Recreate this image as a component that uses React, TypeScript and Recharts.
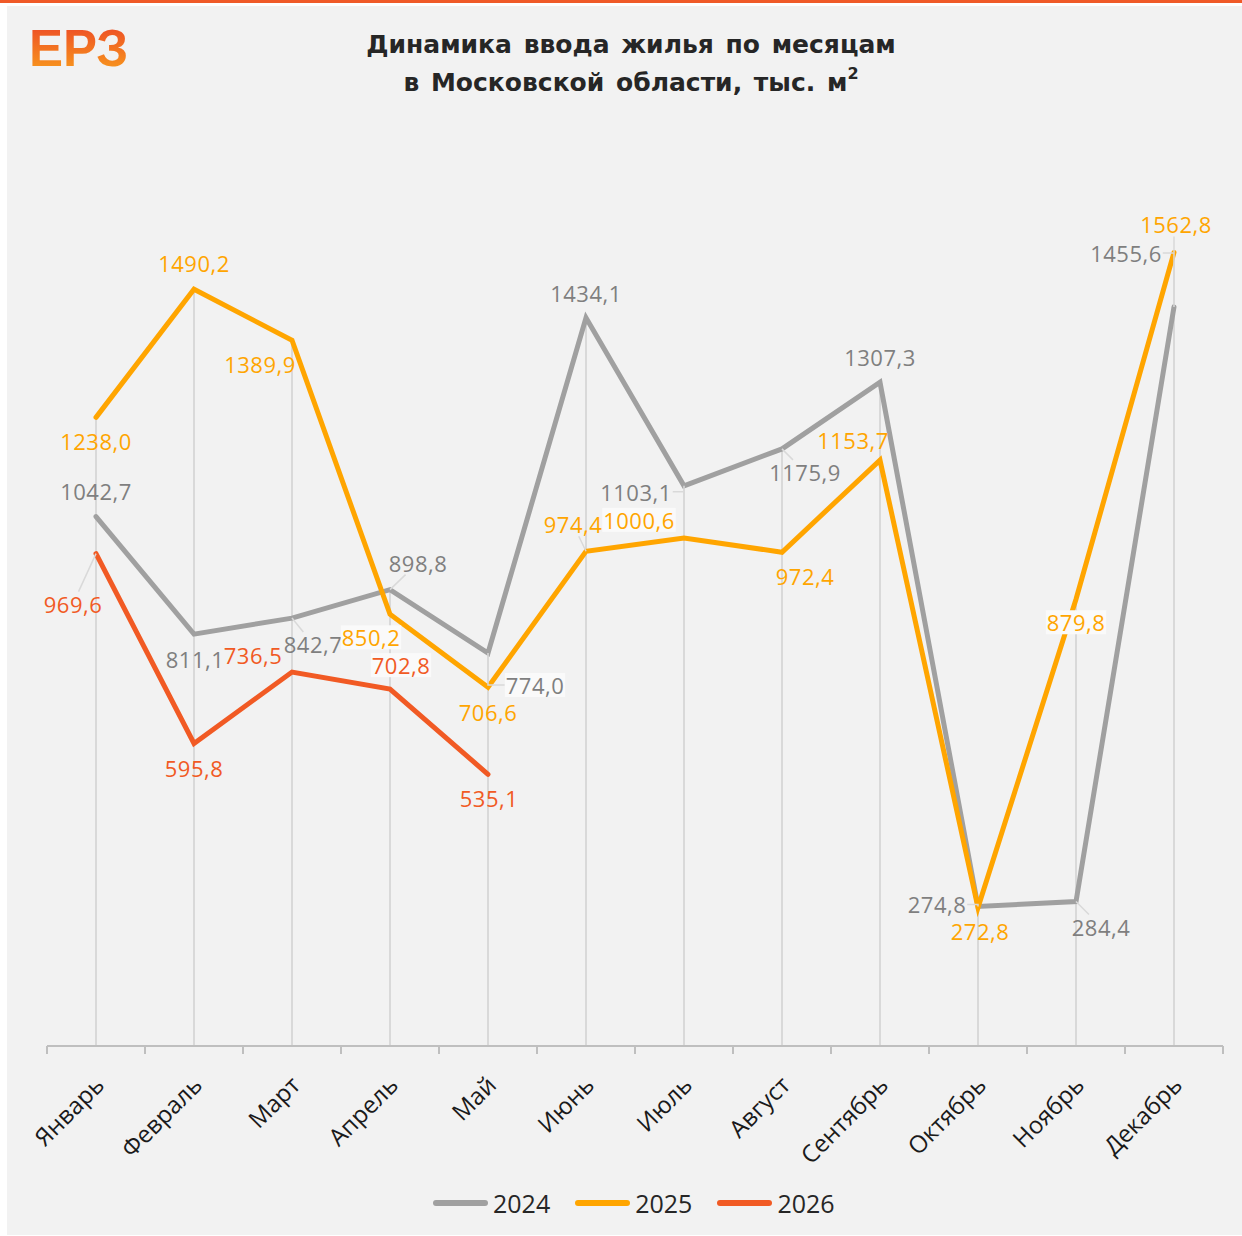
import { ComposedChart, Line, Bar, XAxis, YAxis } from 'recharts';

const months = ['Январь', 'Февраль', 'Март', 'Апрель', 'Май', 'Июнь', 'Июль', 'Август', 'Сентябрь', 'Октябрь', 'Ноябрь', 'Декабрь'];
const v2024 = [1042.7, 811.1, 842.7, 898.8, 774.0, 1434.1, 1103.1, 1175.9, 1307.3, 274.8, 284.4, 1455.6];
const v2025 = [1238.0, 1490.2, 1389.9, 850.2, 706.6, 974.4, 1000.6, 972.4, 1153.7, 272.8, 879.8, 1562.8];
const v2026 = [969.6, 595.8, 736.5, 702.8, 535.1];
const seriesNames = ['2024', '2025', '2026'];
const seriesColors = ['#a0a0a0', '#ffa500', '#f15a24'];
const labelColors = ['#7f7f7f', '#ffa500', '#f15a24'];

const rows = months.map((m, i) => ({
  i,
  m,
  y2024: v2024[i],
  y2025: v2025[i],
  y2026: v2026[i] ?? null,
  drop: Math.max(v2024[i], v2025[i], v2026[i] ?? 0),
}));

const ticks: number[] = [];
for (let t = -0.5; t <= months.length - 0.5; t += 0.5) ticks.push(t);

// hand placement of data labels, like in the excel original
type LL = { dx: number; dy: number; leader?: 'd' | 'e'; box?: boolean };
const labelLayout: Record<string, LL[]> = {
  y2024: [
    { dx: 0, dy: -26 },
    { dx: 1, dy: 25 },
    { dx: 21, dy: 26, leader: 'd' },
    { dx: 28, dy: -27, leader: 'd' },
    { dx: 47, dy: 32, leader: 'e', box: true },
    { dx: 0, dy: -25 },
    { dx: -48, dy: 6, leader: 'e' },
    { dx: 23, dy: 23, leader: 'd' },
    { dx: 0, dy: -25 },
    { dx: -41, dy: -2, leader: 'e' },
    { dx: 25, dy: 25, leader: 'd' },
    { dx: -48, dy: -54, leader: 'e' },
  ],
  y2025: [
    { dx: 0, dy: 24 },
    { dx: 0, dy: -26 },
    { dx: -32, dy: 24 },
    { dx: -19, dy: 23, box: true },
    { dx: 0, dy: 25 },
    { dx: -13, dy: -27, leader: 'd' },
    { dx: -45, dy: -18, box: true },
    { dx: 23, dy: 24 },
    { dx: -27, dy: -20 },
    { dx: 2, dy: 24 },
    { dx: 0, dy: 23, box: true },
    { dx: 2, dy: -28, leader: 'e' },
  ],
  y2026: [
    { dx: -23, dy: 50, leader: 'd' },
    { dx: 0, dy: 25 },
    { dx: -39, dy: -17 },
    { dx: 11, dy: -24, box: true },
    { dx: 1, dy: 24 },
  ],
};

const fmt = (v: number) => v.toFixed(1).replace('.', ',');
const labelFont = '"Open Sans", sans-serif';

const makeLabel = (key: string, color: string) => (p: any) => {
  const { x, y, value, index } = p;
  if (value == null || x == null || y == null) return null;
  const L = labelLayout[key][index];
  if (!L) return null;
  const text = fmt(value);
  const cx = x + L.dx;
  const cy = y + L.dy;
  const hw = ((text.length - 1) * 13.1 + 6) / 2 + 1;
  const hh = 12;
  let leader = null;
  if (L.leader === 'd') {
    const ddx = x - cx;
    const ddy = y - cy;
    const s = Math.min(ddx ? hw / Math.abs(ddx) : 9, ddy ? hh / Math.abs(ddy) : 9);
    if (s < 1) {
      leader = <line x1={x} y1={y} x2={cx + ddx * s} y2={cy + ddy * s} stroke="#d9d9d9" strokeWidth={1.5} />;
    }
  } else if (L.leader === 'e') {
    if (Math.abs(x - cx) < hw) {
      const ey = y > cy ? cy + hh : cy - hh;
      leader = <line x1={x} y1={ey} x2={x} y2={y} stroke="#d9d9d9" strokeWidth={1.5} />;
    } else {
      const ex = x > cx ? cx + hw : cx - hw;
      leader = <polyline points={`${ex},${cy} ${x},${cy} ${x},${y}`} fill="none" stroke="#d9d9d9" strokeWidth={1.5} />;
    }
  }
  return (
    <g key={`${key}-${index}`}>
      {leader}
      {L.box && <rect x={cx - hw} y={cy - hh} width={hw * 2} height={hh * 2} fill="#fafafa" />}
      <text x={cx} y={cy} textAnchor="middle" dominantBaseline="central" fill={color} fontSize={22} fontFamily={labelFont} letterSpacing={0.5}>
        {text}
      </text>
    </g>
  );
};

function MonthTick(props: any) {
  const { x, y, payload } = props;
  const v = payload.value as number;
  if (!Number.isInteger(v)) {
    return <line x1={x} x2={x} y1={y} y2={y + 8} stroke="#bfbfbf" strokeWidth={2} />;
  }
  const px = x + 3;
  const py = y + 34;
  return (
    <text x={px} y={py} transform={`rotate(-45 ${px} ${py})`} textAnchor="end" dominantBaseline="central" fill="#1a1a1a" fontSize={24} fontFamily={labelFont}>
      {months[v]}
    </text>
  );
}

export default function App() {
  const keys = ['y2024', 'y2025', 'y2026'];
  return (
    <div style={{ position: 'absolute', left: 0, top: 0, width: 1242, height: 1236, background: '#fff', overflow: 'hidden' }}>
      <div style={{ position: 'absolute', left: 0, top: 0, width: 1242, height: 3, background: '#f05a28' }} />
      <div style={{ position: 'absolute', left: 7, top: 6, right: 0, bottom: 1, background: '#f2f2f2' }} />
      <div
        style={{
          position: 'absolute', left: 29, top: 17, fontFamily: '"Liberation Sans", Arial, sans-serif', fontWeight: 700, fontSize: 51,
          lineHeight: '64px', background: 'linear-gradient(180deg, #ee5525 20%, #f8981d 85%)', WebkitBackgroundClip: 'text',
          backgroundClip: 'text', color: 'transparent',
        }}
      >
        ЕРЗ
      </div>
      <div
        style={{
          position: 'absolute', left: 231, top: 26, width: 800, textAlign: 'center', fontFamily: '"DejaVu Sans", sans-serif',
          fontWeight: 700, fontSize: 25, lineHeight: '38px', color: '#262626', wordSpacing: 3,
        }}
      >
        <div>Динамика ввода жилья по месяцам</div>
        <div>в Московской области, тыс. м<sup style={{ fontSize: 16, verticalAlign: 'top', lineHeight: '20px' }}>2</sup></div>
      </div>

      <div style={{ position: 'absolute', left: 0, top: 0 }}>
        <ComposedChart width={1242} height={1236} data={rows} margin={{ top: 132, right: 19, bottom: 0, left: 47 }}>
          <XAxis
            dataKey="i"
            type="number"
            domain={[-0.5, months.length - 0.5]}
            ticks={ticks}
            interval={0}
            height={190}
            tickSize={0}
            tickMargin={0}
            tickLine={false}
            axisLine={{ stroke: '#bfbfbf', strokeWidth: 2 }}
            tick={<MonthTick />}
          />
          <YAxis type="number" domain={[0, 1800]} hide />
          <Bar dataKey="drop" barSize={2} fill="#d9d9d9" isAnimationActive={false} />
          {keys.map((k, si) => (
            <Line
              key={k}
              dataKey={k}
              name={seriesNames[si]}
              stroke={seriesColors[si]}
              strokeWidth={5}
              strokeLinecap="round"
              strokeLinejoin="miter"
              dot={false}
              activeDot={false}
              isAnimationActive={false}
              label={makeLabel(k, labelColors[si])}
            />
          ))}
        </ComposedChart>
      </div>

      <div style={{ position: 'absolute', left: 433, top: 1186, display: 'flex', alignItems: 'center', gap: 25, fontFamily: labelFont, fontSize: 25, color: '#262626' }}>
        {seriesNames.map((n, si) => (
          <div key={n} style={{ display: 'flex', alignItems: 'center', gap: 5 }}>
            <div style={{ width: 55, height: 6, borderRadius: 3, background: seriesColors[si] }} />
            <span>{n}</span>
          </div>
        ))}
      </div>
    </div>
  );
}
